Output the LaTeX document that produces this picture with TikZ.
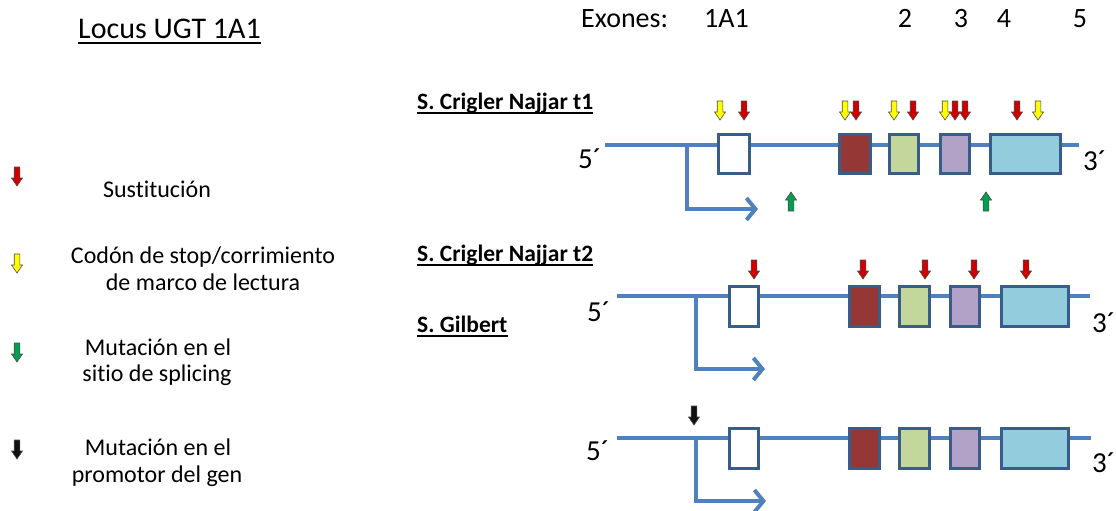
\documentclass[tikz,border=0pt]{standalone}
\usepackage{fontspec}
\setmainfont{Carlito}[Ligatures=NoCommon]
\usetikzlibrary{arrows.meta}
\definecolor{dna}{HTML}{4F81BD}
\definecolor{boxline}{HTML}{385D8A}
\definecolor{exB}{HTML}{953735}
\definecolor{exC}{HTML}{C3D69B}
\definecolor{exD}{HTML}{B3A2C7}
\definecolor{exE}{HTML}{93CDDD}
\definecolor{mred}{HTML}{D00000}
\definecolor{myel}{HTML}{FFFF00}
\definecolor{mgrn}{HTML}{00A050}
\definecolor{mblk}{HTML}{111111}
\tikzset{
  pics/darr/.style={code={
    \path[draw=black!70, line width=0.6pt, fill=#1]
      (-2.8,0) -- (-2.8,11) -- (-5.5,11) -- (0,19) -- (5.5,11) -- (2.8,11) -- (2.8,0) -- cycle;}},
}
\begin{document}
\begin{tikzpicture}[x=1pt,y=-1pt,
  dnaline/.style={draw=dna, line width=4pt},
  promo/.style={draw=dna, line width=4pt, -{Straight Barb[length=9pt,width=22pt]}},
  exon/.style={draw=boxline, line width=3pt, inner sep=0pt, minimum height=39pt},
  exontall/.style={exon, minimum height=40pt},
  rowlbl/.style={inner sep=0pt, anchor=base west, font=\fontsize{23.5}{27}\selectfont\bfseries},
  ulbold/.style={line width=2pt},
  endlbl/.style={inner sep=0pt, anchor=base west, font=\fontsize{29}{34}\selectfont},
  legtxt/.style={inner sep=0pt, anchor=base, font=\fontsize{24}{28}\selectfont},
  toplbl/.style={inner sep=0pt, anchor=base west, font=\fontsize{28}{32}\selectfont},
  topnum/.style={inner sep=0pt, anchor=base, font=\fontsize{28}{32}\selectfont},
]
\useasboundingbox (0,0) rectangle (1116,511);

% titles
\node[inner sep=0pt, anchor=base west, font=\fontsize{30}{36}\selectfont] (title) at (78,39) {Locus UGT 1A1};
\draw[line width=2pt] ([yshift=-4.5pt]title.base west) -- ([yshift=-4.5pt]title.base east);
\node[toplbl] (exones) at (581,28) {Exones:};
\node[toplbl] (n1) at (704,28) {1A1};
\node[topnum] (n2) at (905,28) {2};
\node[topnum] (n3) at (961,28) {3};
\node[topnum] (n4) at (1004,28) {4};
\node[topnum] (n5) at (1080,28) {5};

% legend
\pic (lr) at (17,167) {darr=mred};
\node[legtxt] (l1) at (157,197) {Sustitución};
\pic (ly) at (17,254) {darr=myel};
\node[legtxt] (l2a) at (203,263) {Codón de stop/corrimiento};
\node[legtxt] (l2b) at (203,290) {de marco de lectura};
\pic (lg) at (17,343) {darr=mgrn};
\node[legtxt] (l3a) at (158,355) {Mutación en el};
\node[legtxt] (l3b) at (157,381) {sitio de splicing};
\pic (lk) at (17,440) {darr=mblk};
\node[legtxt] (l4a) at (158,455) {Mutación en el};
\node[legtxt] (l4b) at (157,482) {promotor del gen};

% row labels
\node[rowlbl] (r1) at (417,109) {S. Crigler Najjar t1};
\draw[ulbold] ([yshift=-3.5pt]r1.base west) -- ([yshift=-3.5pt]r1.base east);
\node[rowlbl] (r2) at (417,261) {S. Crigler Najjar t2};
\draw[ulbold] ([yshift=-3.5pt]r2.base west) -- ([yshift=-3.5pt]r2.base east);
\node[rowlbl] (r3) at (417,332) {S. Gilbert};
\draw[ulbold] ([yshift=-3.5pt]r3.base west) -- ([yshift=-3.5pt]r3.base east);

% ---------- row 1 ----------
\coordinate (s1) at (605,145);
\coordinate (f1) at (1079,145);
\draw[dnaline] (s1) -- (f1);
\coordinate (p1) at (687,145);
\coordinate (t1) at (758,209);
\draw[promo] (p1) |- (t1);
\node[exon, fill=white, minimum width=31pt] (a1) at (734,154) {};
\node[exon, fill=exB, minimum width=31pt] (b1) at (855,154) {};
\node[exon, fill=exC, minimum width=29pt] (c1) at (904,154) {};
\node[exon, fill=exD, minimum width=29pt] (d1) at (955,154) {};
\node[exon, fill=exE, minimum width=70pt] (e1) at (1025.5,154) {};
\node[endlbl] (five1) at (578,168) {5´};
\node[endlbl] (three1) at (1083,170) {3´};
\pic at (720,101) {darr=myel};
\pic at (744,101) {darr=mred};
\pic at (845,101) {darr=myel};
\pic at (856,101) {darr=mred};
\pic at (894,101) {darr=myel};
\pic at (913,101) {darr=mred};
\pic at (945,101) {darr=myel};
\pic at (955,101) {darr=mred};
\pic at (965,101) {darr=mred};
\pic at (1017,101) {darr=mred};
\pic at (1038,101) {darr=myel};
\pic[rotate=180] at (791,211) {darr=mgrn};
\pic[rotate=180] at (986,211) {darr=mgrn};

% ---------- row 2 ----------
\coordinate (s2) at (617,296);
\coordinate (f2) at (1090,296);
\draw[dnaline] (s2) -- (f2);
\coordinate (p2) at (696,296);
\coordinate (t2) at (765,369);
\draw[promo] (p2) |- (t2);
\node[exontall, fill=white, minimum width=29pt] (a2) at (744,306.5) {};
\node[exontall, fill=exB, minimum width=30pt] (b2) at (864.5,306.5) {};
\node[exontall, fill=exC, minimum width=30pt] (c2) at (914.5,306.5) {};
\node[exontall, fill=exD, minimum width=29pt] (d2) at (965,306.5) {};
\node[exontall, fill=exE, minimum width=67pt] (e2) at (1035,306.5) {};
\node[endlbl] (five2) at (587,321) {5´};
\node[endlbl] (three2) at (1092,332) {3´};
\pic at (754,260) {darr=mred};
\pic at (863,260) {darr=mred};
\pic at (925,260) {darr=mred};
\pic at (974,260) {darr=mred};
\pic at (1026,260) {darr=mred};

% ---------- row 3 ----------
\coordinate (s3) at (617,438);
\coordinate (f3) at (1091,438);
\draw[dnaline] (s3) -- (f3);
\coordinate (p3) at (696,438);
\coordinate (t3) at (766,501);
\draw[promo] (p3) |- (t3);
\node[exontall, fill=white, minimum width=29pt] (a3) at (744,448.5) {};
\node[exontall, fill=exB, minimum width=30pt] (b3) at (864.5,448.5) {};
\node[exontall, fill=exC, minimum width=30pt] (c3) at (914.5,448.5) {};
\node[exontall, fill=exD, minimum width=29pt] (d3) at (965,448.5) {};
\node[exontall, fill=exE, minimum width=67pt] (e3) at (1035,448.5) {};
\node[endlbl] (five3) at (586,460) {5´};
\node[endlbl] (three3) at (1092,472) {3´};
\pic at (694,406) {darr=mblk};
\end{tikzpicture}
\end{document}
